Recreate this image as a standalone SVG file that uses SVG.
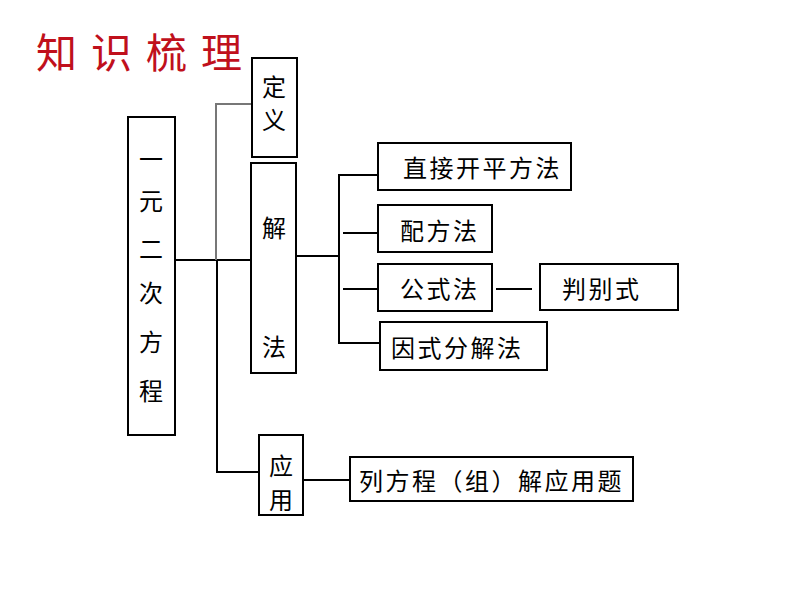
<svg xmlns="http://www.w3.org/2000/svg" width="794" height="596" viewBox="0 0 794 596">
<style>
.box{fill:#fff;stroke:#000;stroke-width:2}
.t{font-family:"Noto Sans CJK SC","Noto Sans",sans-serif;font-size:24px;fill:#000}
.c{fill:none;stroke:#000;stroke-width:2}
.g{fill:none;stroke:#777;stroke-width:2}
.title{font-family:"Noto Sans CJK SC","Noto Sans",sans-serif;font-size:41px;fill:#C0101C;letter-spacing:14px}
</style>
<rect width="794" height="596" fill="#fff"/>
<text class="title" x="36" y="68">知识梳理</text>
<g id="connectors">
<path class="c" d="M175 260 H217"/>
<path class="g" d="M252 104 H216 V260"/>
<path class="c" d="M217 260 V472 H259"/>
<path class="c" d="M217 260 H251"/>
<path class="c" d="M297 256 H339"/>
<path class="c" d="M378 175 H339 V343 H380"/>
<path class="c" d="M343 233 H378"/>
<path class="c" d="M343 289 H378"/>
<path class="c" d="M496 289 H532"/>
<path class="c" d="M303 480 H350"/>
</g>
<g id="root"><rect class="box" x="128" y="117" width="47" height="318"/>
<g class="t" text-anchor="middle"><text x="151" y="168">一</text><text x="151" y="210">元</text><text x="151" y="258">二</text><text x="151" y="302">次</text><text x="151" y="351">方</text><text x="151" y="400">程</text></g></g>
<g id="def"><rect class="box" x="252" y="58" width="45" height="99"/>
<g class="t" text-anchor="middle"><text x="274" y="96">定</text><text x="274" y="129">义</text></g></g>
<g id="solve"><rect class="box" x="251" y="163" width="45" height="210"/>
<g class="t" text-anchor="middle"><text x="274" y="237">解</text><text x="274" y="356">法</text></g></g>
<g id="apply"><rect class="box" x="259" y="435" width="44" height="80"/>
<g class="t" text-anchor="middle"><text x="281" y="475">应</text><text x="281" y="509">用</text></g></g>
<g id="m1"><rect class="box" x="378" y="143" width="193" height="47"/><text class="t" x="403" y="177" letter-spacing="2.5">直接开平方法</text></g>
<g id="m2"><rect class="box" x="378" y="205" width="114" height="47"/><text class="t" x="400" y="240" letter-spacing="2.5">配方法</text></g>
<g id="m3"><rect class="box" x="378" y="264" width="114" height="47"/><text class="t" x="400" y="298" letter-spacing="2.5">公式法</text></g>
<g id="m5"><rect class="box" x="540" y="264" width="138" height="46"/><text class="t" x="562" y="298" letter-spacing="2.5">判别式</text></g>
<g id="m4"><rect class="box" x="380" y="322" width="167" height="48"/><text class="t" x="391" y="357" letter-spacing="2.5">因式分解法</text></g>
<g id="app1"><rect class="box" x="350" y="457" width="283" height="44"/><text class="t" x="359" y="490" letter-spacing="2.5">列方程（组）解应用题</text></g>
</svg>
